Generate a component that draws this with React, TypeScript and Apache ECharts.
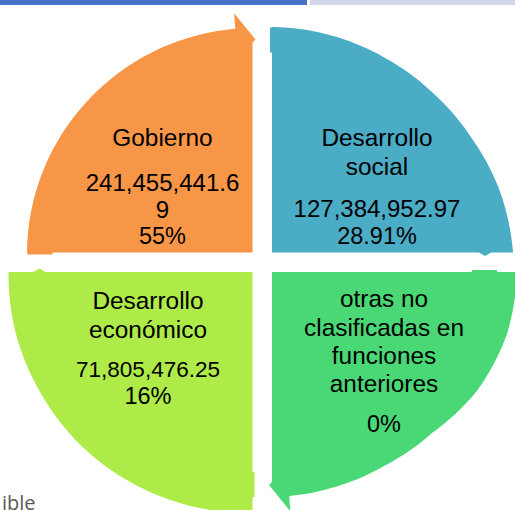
import React, { useEffect, useRef } from "react";
import * as echarts from "echarts";

// ---- data ----
const categories = ["Gobierno", "Desarrollo social", "otras no clasificadas en funciones anteriores", "Desarrollo económico"];
const categoryLines = [["Gobierno"], ["Desarrollo", "social"], ["otras no", "clasificadas en", "funciones", "anteriores"], ["Desarrollo", "económico"]];
const amounts: (number | null)[] = [241455441.69, 127384952.97, null, 71805476.25];
const percentLabels = ["55%", "28.91%", "0%", "16%"];

// ---- style / layout ----
const colors = ["#F79646", "#4BACC6", "#4AD876", "#AEEA48"];
const amountWrap = [13, 0, 0, 0];
const CX = 262.25;
const CY = 262.25;
const HALF_GAP = 9.75;
const cornerSign = [[-1, -1], [1, -1], [1, 1], [-1, 1]];
const startAngle = [180, 270, 0, 90];
const radiusProfile = [
  [225.5, 225, 224.5, 224, 224, 224, 224.5],
  [225.5, 225, 225, 226.5, 230, 236, 241],
  [245, 243, 237, 227, 224, 224, 225],
  [241, 242, 243, 244, 244, 244.5, 244],
];
const headType = ["flare", "bump", "flare", "bump"];
const textX = [162.5, 377, 384, 148];
const nameY = [[137.5], [137, 166], [298, 327, 355, 383], [300, 329]];
const amountY = [[182.5, 209.5], [208], [], [369.5]];
const pctY = [236, 236, 424, 395.5];
const NAME_FONT = '24.4px "Liberation Sans"';
const AMOUNT_FONTS = ['24px "Liberation Sans"', '24px "Liberation Sans"', '24px "Liberation Sans"', '22.5px "Liberation Sans"'];
const PCT_FONT = '23.5px "Liberation Sans"';

function fmtAmount(v: number | null, wrap: number): string[] {
  if (v == null) return [];
  const s = v.toLocaleString("en-US", { minimumFractionDigits: 2, maximumFractionDigits: 2 });
  if (!wrap || s.length <= wrap) return [s];
  const out: string[] = [];
  for (let i = 0; i < s.length; i += wrap) out.push(s.slice(i, i + wrap));
  return out;
}

function rAt(prof: number[], th: number) {
  const t = Math.max(0, Math.min(90, th)) / 15;
  const i = Math.min(5, Math.floor(t));
  const f = t - i;
  return prof[i] * (1 - f) + prof[i + 1] * f;
}

function quadrantPoints(i: number): number[][] {
  const cx0 = CX + cornerSign[i][0] * HALF_GAP;
  const cy0 = CY + cornerSign[i][1] * HALF_GAP;
  const phi0 = startAngle[i];
  const prof = radiusProfile[i];
  const P = (r: number, th: number, off = 0) => {
    const a = ((phi0 + th) * Math.PI) / 180;
    const f = a + Math.PI / 2;
    return [cx0 + r * Math.cos(a) + off * Math.cos(f), cy0 + r * Math.sin(a) + off * Math.sin(f)];
  };
  const pts: number[][] = [];
  pts.push(P(0, 0));
  pts.push(P(200, 0));
  pts.push(P(200, 0, -2));
  pts.push(P(225, 0, -2));
  pts.push(P(225, 0));
  const flare = headType[i] === "flare";
  const thEnd = flare ? 85.6 : 90;
  for (let th = 0; th < thEnd; th += 1) pts.push(P(rAt(prof, th), th));
  pts.push(P(rAt(prof, thEnd), thEnd));
  if (flare) {
    pts.push(P(240, thEnd));
    pts.push(P(213, 90, 3));
    pts.push(P(210, 90));
  } else {
    pts.push(P(219, 90));
    pts.push(P(213, 90, 3.5));
    pts.push(P(207, 90));
  }
  return pts;
}

function txt(text: string, x: number, y: number, font: string, fill = "#000") {
  return {
    type: "text",
    x,
    y,
    style: { text, x: 0, y: 0, fill, font, textAlign: "center", textVerticalAlign: "middle", align: "center", verticalAlign: "middle" },
  };
}

export default function App() {
  const ref = useRef<HTMLDivElement>(null);
  useEffect(() => {
    if (!ref.current) return;
    const chart = echarts.init(ref.current, null, { renderer: "svg" });
    chart.setOption({
      animation: false,
      backgroundColor: "#ffffff",
      graphic: [
        { type: "rect", shape: { x: 0, y: 0, width: 307, height: 5 }, style: { fill: "#4472C4" } },
        { type: "rect", shape: { x: 310, y: 0, width: 205, height: 5 }, style: { fill: "#CFD5EA" } },
        { type: "text", x: 2, y: 502, style: { text: "ible", fill: "#595959", font: '20px "Open Sans"', textVerticalAlign: "middle", verticalAlign: "middle" } },
      ],
      series: [
        {
          type: "custom",
          coordinateSystem: "none",
          silent: true,
          data: categories.map((c, i) => ({ name: c, value: i })),
          renderItem: (params: any) => {
            const i = params.dataIndex;
            const children: any[] = [
              { type: "polygon", shape: { points: quadrantPoints(i) }, style: { fill: colors[i] } },
            ];
            categoryLines[i].forEach((l, j) => children.push(txt(l, textX[i], nameY[i][j], NAME_FONT)));
            fmtAmount(amounts[i], amountWrap[i]).forEach((l, j) => children.push(txt(l, textX[i], amountY[i][j], AMOUNT_FONTS[i])));
            children.push(txt(percentLabels[i], textX[i], pctY[i], PCT_FONT));
            return { type: "group", children };
          },
        },
      ],
    });
    return () => chart.dispose();
  }, []);
  return <div ref={ref} style={{ position: "fixed", left: 0, top: 0, width: 515, height: 510 }} />;
}
